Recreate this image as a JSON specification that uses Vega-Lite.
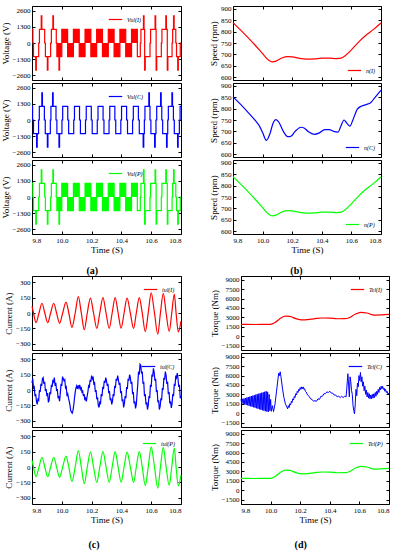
{
"$schema": "https://vega.github.io/schema/vega-lite/v6.json",
"padding": {"left": 0, "top": 4, "right": 6, "bottom": 0},
"config": {
 "font": "Liberation Serif",
 "view": {"stroke": "#000", "strokeWidth": 1},
 "axis": {"grid": false, "domain": false, "tickColor": "#000", "tickSize": -3, "labelFontSize": 7, "labelColor": "#000", "titleFontSize": 9, "titleFontWeight": "normal", "titleColor": "#000", "labelPadding": 5, "titlePadding": 2, "format": "d"},
 "legend": {"orient": "top-right", "symbolType": "stroke", "symbolSize": 180, "symbolStrokeWidth": 1.5, "labelFont": "Liberation Serif", "labelFontSize": 6, "labelFontStyle": "italic", "labelColor": "#000", "padding": 2, "offset": 4},
 "title": {"font": "Liberation Serif", "fontSize": 10, "fontWeight": "bold", "color": "#000"},
 "line": {"strokeWidth": 1.2}
},
"datasets": {
 "pwm": [
  {"t":9.8,"v":1100},{"t":9.806,"v":0},{"t":9.81,"v":-1100},{"t":9.825,"v":-2200},{"t":9.829,"v":-1100},{"t":9.845,"v":0},{"t":9.85,"v":1100},{"t":9.862,"v":2200},{"t":9.866,"v":1100},{"t":9.885,"v":0},{"t":9.89,"v":-1100},{"t":9.903,"v":-2200},{"t":9.907,"v":-1100},{"t":9.925,"v":0},{"t":9.93,"v":1100},{"t":9.94,"v":2200},{"t":9.944,"v":1100},{"t":9.963,"v":0},{"t":9.967,"v":-1100},{"t":9.981,"v":-2200},{"t":9.985,"v":-1100},{"t":10.0,"v":1100},{"t":10.039,"v":-1100},{"t":10.078,"v":1100},{"t":10.117,"v":-1100},{"t":10.156,"v":1100},{"t":10.195,"v":-1100},{"t":10.234,"v":1100},{"t":10.273,"v":-1100},{"t":10.312,"v":1100},{"t":10.351,"v":-1100},{"t":10.39,"v":1100},{"t":10.429,"v":-1100},{"t":10.468,"v":1100},{"t":10.507,"v":-1100},{"t":10.527,"v":0},{"t":10.531,"v":1100},{"t":10.548,"v":2200},{"t":10.552,"v":1100},{"t":10.556,"v":-2200},{"t":10.56,"v":-1100},{"t":10.592,"v":0},{"t":10.596,"v":1100},{"t":10.626,"v":2200},{"t":10.63,"v":1100},{"t":10.633,"v":-2200},{"t":10.637,"v":-1100},{"t":10.668,"v":0},{"t":10.672,"v":1100},{"t":10.698,"v":2200},{"t":10.702,"v":1100},{"t":10.708,"v":-2200},{"t":10.712,"v":-1100},{"t":10.74,"v":0},{"t":10.744,"v":1100},{"t":10.75,"v":2200},{"t":10.754,"v":1100},{"t":10.765,"v":0},{"t":10.77,"v":-1100},{"t":10.778,"v":-2200},{"t":10.782,"v":-1100},{"t":10.795,"v":0},{"t":10.8,"v":0}
 ],
 "blocks": [
  {"t":9.967,"t2":10.0,"v":-1100},{"t":10.0,"t2":10.039,"v":1100},{"t":10.039,"t2":10.078,"v":-1100},{"t":10.078,"t2":10.117,"v":1100},{"t":10.117,"t2":10.156,"v":-1100},{"t":10.156,"t2":10.195,"v":1100},{"t":10.195,"t2":10.234,"v":-1100},{"t":10.234,"t2":10.273,"v":1100},{"t":10.273,"t2":10.312,"v":-1100},{"t":10.312,"t2":10.351,"v":1100},{"t":10.351,"t2":10.39,"v":-1100},{"t":10.39,"t2":10.429,"v":1100},{"t":10.429,"t2":10.468,"v":-1100},{"t":10.468,"t2":10.507,"v":1100}
 ],
 "vc": [
  {"t":9.8,"v":1100},{"t":9.804,"v":0},{"t":9.81,"v":-1100},{"t":9.831,"v":-2200},{"t":9.835,"v":-1100},{"t":9.844,"v":0},
  {"t":9.849,"v":1100},{"t":9.866,"v":2200},{"t":9.87,"v":1100},{"t":9.883,"v":0},{"t":9.889,"v":-1100},{"t":9.903,"v":-2200},{"t":9.907,"v":-1100},{"t":9.923,"v":0},
  {"t":9.927,"v":1100},{"t":9.938,"v":2200},{"t":9.942,"v":1100},{"t":9.961,"v":0},{"t":9.967,"v":-1100},{"t":9.981,"v":-2200},{"t":9.985,"v":-1100},{"t":10.001,"v":0},
  {"t":10.006,"v":1100},{"t":10.04,"v":0},{"t":10.046,"v":-1100},{"t":10.08,"v":0},
  {"t":10.085,"v":1100},{"t":10.119,"v":0},{"t":10.125,"v":-1100},{"t":10.159,"v":0},
  {"t":10.164,"v":1100},{"t":10.198,"v":0},{"t":10.204,"v":-1100},{"t":10.238,"v":0},
  {"t":10.243,"v":1100},{"t":10.277,"v":0},{"t":10.283,"v":-1100},{"t":10.317,"v":0},
  {"t":10.322,"v":1100},{"t":10.356,"v":0},{"t":10.362,"v":-1100},{"t":10.396,"v":0},
  {"t":10.401,"v":1100},{"t":10.435,"v":0},{"t":10.441,"v":-1100},{"t":10.475,"v":0},
  {"t":10.48,"v":1100},{"t":10.514,"v":0},{"t":10.52,"v":-1100},{"t":10.546,"v":-2200},{"t":10.55,"v":-1100},{"t":10.554,"v":0},
  {"t":10.558,"v":1100},{"t":10.584,"v":2200},{"t":10.588,"v":1100},{"t":10.592,"v":0},{"t":10.598,"v":-1100},{"t":10.623,"v":-2200},{"t":10.627,"v":-1100},{"t":10.632,"v":0},
  {"t":10.637,"v":1100},{"t":10.663,"v":2200},{"t":10.667,"v":1100},{"t":10.671,"v":0},{"t":10.677,"v":-1100},{"t":10.703,"v":-2200},{"t":10.707,"v":-1100},{"t":10.711,"v":0},
  {"t":10.715,"v":1100},{"t":10.739,"v":2200},{"t":10.743,"v":1100},{"t":10.749,"v":0},{"t":10.755,"v":-1100},{"t":10.777,"v":-2200},{"t":10.781,"v":-1100},{"t":10.789,"v":0},
  {"t":10.794,"v":1100},{"t":10.8,"v":1100}
 ],
 "spd": [
  {"t":9.8,"v":840},{"t":9.85,"v":808},{"t":9.9,"v":775},{"t":9.95,"v":740},{"t":10.0,"v":703},{"t":10.04,"v":675},{"t":10.065,"v":667},{"t":10.09,"v":670},{"t":10.13,"v":684},{"t":10.17,"v":690},{"t":10.2,"v":689},{"t":10.25,"v":682},{"t":10.3,"v":679},{"t":10.35,"v":680},{"t":10.4,"v":683},{"t":10.45,"v":683},{"t":10.5,"v":681},{"t":10.53,"v":683},{"t":10.56,"v":695},{"t":10.6,"v":720},{"t":10.65,"v":755},{"t":10.7,"v":785},{"t":10.75,"v":810},{"t":10.8,"v":838}
 ],
 "sc": [
  {"t":9.8,"v":852},{"t":9.85,"v":820},{"t":9.9,"v":785},{"t":9.95,"v":748},{"t":9.98,"v":722},{"t":10.0,"v":695},{"t":10.025,"v":660},{"t":10.05,"v":690},{"t":10.07,"v":735},{"t":10.09,"v":752},{"t":10.11,"v":740},{"t":10.14,"v":700},{"t":10.17,"v":677},{"t":10.19,"v":678},{"t":10.22,"v":700},{"t":10.26,"v":718},{"t":10.28,"v":715},{"t":10.31,"v":698},{"t":10.35,"v":687},{"t":10.38,"v":692},{"t":10.42,"v":708},{"t":10.45,"v":708},{"t":10.48,"v":700},{"t":10.51,"v":697},{"t":10.53,"v":725},{"t":10.55,"v":750},{"t":10.57,"v":735},{"t":10.59,"v":723},{"t":10.61,"v":750},{"t":10.64,"v":798},{"t":10.67,"v":812},{"t":10.7,"v":818},{"t":10.73,"v":826},{"t":10.76,"v":850},{"t":10.8,"v":882}
 ],
 "cur": [
  {"t":9.8,"v":65},{"t":9.81,"v":0},{"t":9.827,"v":-95},{"t":9.847,"v":0},{"t":9.867,"v":95},{"t":9.886,"v":0},{"t":9.905,"v":-95},{"t":9.925,"v":0},{"t":9.946,"v":95},{"t":9.965,"v":0},{"t":9.985,"v":-100},{"t":10.006,"v":0},{"t":10.028,"v":105},{"t":10.047,"v":0},{"t":10.068,"v":-140},{"t":10.09,"v":0},{"t":10.111,"v":160},{"t":10.131,"v":0},{"t":10.151,"v":-163},{"t":10.171,"v":0},{"t":10.192,"v":145},{"t":10.213,"v":0},{"t":10.235,"v":-150},{"t":10.255,"v":0},{"t":10.276,"v":150},{"t":10.297,"v":0},{"t":10.318,"v":-150},{"t":10.338,"v":0},{"t":10.358,"v":150},{"t":10.378,"v":0},{"t":10.398,"v":-148},{"t":10.418,"v":0},{"t":10.438,"v":145},{"t":10.46,"v":0},{"t":10.482,"v":-150},{"t":10.5,"v":0},{"t":10.52,"v":150},{"t":10.54,"v":0},{"t":10.56,"v":-182},{"t":10.58,"v":0},{"t":10.6,"v":195},{"t":10.622,"v":0},{"t":10.644,"v":-205},{"t":10.662,"v":0},{"t":10.681,"v":190},{"t":10.7,"v":0},{"t":10.721,"v":-180},{"t":10.738,"v":0},{"t":10.755,"v":185},{"t":10.767,"v":0},{"t":10.782,"v":-185},{"t":10.8,"v":-80}
 ],
 "ic": [
  {"t":9.8,"v":70},{"t":9.805,"v":110},{"t":9.81,"v":20},{"t":9.815,"v":30},{"t":9.82,"v":-60},{"t":9.825,"v":-40},{"t":9.83,"v":-110},{"t":9.835,"v":-140},{"t":9.84,"v":-90},{"t":9.845,"v":-100},{"t":9.85,"v":0},{"t":9.855,"v":-20},{"t":9.86,"v":60},{"t":9.865,"v":40},{"t":9.87,"v":110},{"t":9.875,"v":120},{"t":9.88,"v":60},{"t":9.885,"v":80},{"t":9.89,"v":-10},{"t":9.895,"v":10},{"t":9.9,"v":-60},{"t":9.905,"v":-30},{"t":9.91,"v":-120},{"t":9.915,"v":-100},{"t":9.92,"v":-20},{"t":9.925,"v":-40},{"t":9.93,"v":50},{"t":9.935,"v":30},{"t":9.94,"v":100},{"t":9.945,"v":80},{"t":9.95,"v":120},{"t":9.955,"v":40},{"t":9.96,"v":70},{"t":9.965,"v":-10},{"t":9.97,"v":10},{"t":9.975,"v":-80},{"t":9.98,"v":-60},{"t":9.985,"v":-110},{"t":9.99,"v":-30},{"t":9.995,"v":60},{"t":10.0,"v":40},{"t":10.005,"v":130},{"t":10.01,"v":110},{"t":10.015,"v":90},{"t":10.02,"v":100},{"t":10.025,"v":20},{"t":10.03,"v":30},{"t":10.035,"v":-60},{"t":10.04,"v":-40},{"t":10.045,"v":-80},{"t":10.05,"v":-110},{"t":10.055,"v":-150},{"t":10.06,"v":-200},{"t":10.065,"v":-215},{"t":10.07,"v":-225},{"t":10.075,"v":-200},{"t":10.08,"v":-150},{"t":10.085,"v":-80},{"t":10.09,"v":-20},{"t":10.095,"v":20},{"t":10.1,"v":40},{"t":10.105,"v":10},{"t":10.11,"v":45},{"t":10.115,"v":20},{"t":10.12,"v":50},{"t":10.125,"v":10},{"t":10.13,"v":30},{"t":10.135,"v":-20},{"t":10.14,"v":-10},{"t":10.145,"v":-60},{"t":10.15,"v":-40},{"t":10.155,"v":-100},{"t":10.16,"v":-80},{"t":10.165,"v":-110},{"t":10.17,"v":-60},{"t":10.175,"v":-20},{"t":10.18,"v":40},{"t":10.185,"v":30},{"t":10.19,"v":100},{"t":10.195,"v":80},{"t":10.2,"v":140},{"t":10.205,"v":110},{"t":10.21,"v":130},{"t":10.215,"v":60},{"t":10.22,"v":70},{"t":10.225,"v":-20},{"t":10.23,"v":0},{"t":10.235,"v":-90},{"t":10.24,"v":-70},{"t":10.245,"v":-150},{"t":10.25,"v":-170},{"t":10.255,"v":-120},{"t":10.26,"v":-130},{"t":10.265,"v":-40},{"t":10.27,"v":-60},{"t":10.275,"v":30},{"t":10.28,"v":10},{"t":10.285,"v":90},{"t":10.29,"v":70},{"t":10.295,"v":120},{"t":10.3,"v":90},{"t":10.305,"v":40},{"t":10.31,"v":60},{"t":10.315,"v":-30},{"t":10.32,"v":-10},{"t":10.325,"v":-100},{"t":10.33,"v":-80},{"t":10.335,"v":-140},{"t":10.34,"v":-110},{"t":10.345,"v":-40},{"t":10.35,"v":-60},{"t":10.355,"v":40},{"t":10.36,"v":20},{"t":10.365,"v":110},{"t":10.37,"v":90},{"t":10.375,"v":140},{"t":10.38,"v":100},{"t":10.385,"v":50},{"t":10.39,"v":70},{"t":10.395,"v":-30},{"t":10.4,"v":-10},{"t":10.405,"v":-110},{"t":10.41,"v":-90},{"t":10.415,"v":-170},{"t":10.42,"v":-130},{"t":10.425,"v":-60},{"t":10.43,"v":-80},{"t":10.435,"v":30},{"t":10.44,"v":10},{"t":10.445,"v":110},{"t":10.45,"v":90},{"t":10.455,"v":150},{"t":10.46,"v":120},{"t":10.465,"v":60},{"t":10.47,"v":80},{"t":10.475,"v":-40},{"t":10.48,"v":-20},{"t":10.485,"v":-130},{"t":10.49,"v":-110},{"t":10.495,"v":-180},{"t":10.5,"v":-140},{"t":10.505,"v":-40},{"t":10.51,"v":60},{"t":10.515,"v":180},{"t":10.52,"v":150},{"t":10.525,"v":250},{"t":10.53,"v":240},{"t":10.535,"v":160},{"t":10.54,"v":180},{"t":10.545,"v":60},{"t":10.55,"v":80},{"t":10.555,"v":-60},{"t":10.56,"v":-40},{"t":10.565,"v":-140},{"t":10.57,"v":-120},{"t":10.575,"v":-190},{"t":10.58,"v":-150},{"t":10.585,"v":-60},{"t":10.59,"v":-80},{"t":10.595,"v":50},{"t":10.6,"v":30},{"t":10.605,"v":150},{"t":10.61,"v":130},{"t":10.615,"v":210},{"t":10.62,"v":170},{"t":10.625,"v":90},{"t":10.63,"v":110},{"t":10.635,"v":-20},{"t":10.64,"v":0},{"t":10.645,"v":-120},{"t":10.65,"v":-100},{"t":10.655,"v":-190},{"t":10.66,"v":-160},{"t":10.665,"v":-80},{"t":10.67,"v":-100},{"t":10.675,"v":20},{"t":10.68,"v":0},{"t":10.685,"v":120},{"t":10.69,"v":100},{"t":10.695,"v":180},{"t":10.7,"v":140},{"t":10.705,"v":60},{"t":10.71,"v":80},{"t":10.715,"v":-40},{"t":10.72,"v":-20},{"t":10.725,"v":-130},{"t":10.73,"v":-110},{"t":10.735,"v":-175},{"t":10.74,"v":-130},{"t":10.745,"v":-40},{"t":10.75,"v":-60},{"t":10.755,"v":60},{"t":10.76,"v":40},{"t":10.765,"v":140},{"t":10.77,"v":120},{"t":10.775,"v":165},{"t":10.78,"v":110},{"t":10.785,"v":30},{"t":10.79,"v":50},{"t":10.795,"v":-80},{"t":10.8,"v":-60}
 ],
 "trq": [
  {"t":9.8,"v":1880},{"t":9.9,"v":1870},{"t":9.98,"v":1880},{"t":10.0,"v":1900},{"t":10.03,"v":2200},{"t":10.07,"v":2900},{"t":10.1,"v":3200},{"t":10.13,"v":3150},{"t":10.17,"v":2800},{"t":10.21,"v":2600},{"t":10.25,"v":2650},{"t":10.3,"v":2800},{"t":10.35,"v":2900},{"t":10.4,"v":2880},{"t":10.45,"v":2780},{"t":10.5,"v":2800},{"t":10.53,"v":2950},{"t":10.57,"v":3500},{"t":10.61,"v":3800},{"t":10.65,"v":3700},{"t":10.7,"v":3350},{"t":10.75,"v":3400},{"t":10.8,"v":3480}
 ],
 "tc": [
  {"t":9.8,"v":2200},{"t":9.805,"v":1600},{"t":9.81,"v":2280},{"t":9.815,"v":1500},{"t":9.82,"v":2350},{"t":9.825,"v":1420},{"t":9.83,"v":2430},{"t":9.835,"v":1340},{"t":9.84,"v":2500},{"t":9.845,"v":1260},{"t":9.85,"v":2580},{"t":9.855,"v":1180},{"t":9.86,"v":2650},{"t":9.865,"v":1100},{"t":9.87,"v":2730},{"t":9.875,"v":1020},{"t":9.88,"v":2800},{"t":9.885,"v":950},{"t":9.89,"v":2880},{"t":9.895,"v":870},{"t":9.9,"v":2960},{"t":9.905,"v":790},{"t":9.91,"v":3030},{"t":9.915,"v":710},{"t":9.92,"v":3110},{"t":9.925,"v":630},{"t":9.93,"v":3180},{"t":9.935,"v":550},{"t":9.94,"v":3260},{"t":9.945,"v":470},{"t":9.95,"v":3330},{"t":9.955,"v":400},{"t":9.96,"v":3420},{"t":9.965,"v":320},{"t":9.97,"v":3500},{"t":9.975,"v":260},{"t":9.98,"v":3400},{"t":9.985,"v":200},{"t":9.99,"v":3000},{"t":9.995,"v":400},{"t":10.0,"v":2200},{"t":10.005,"v":300},{"t":10.012,"v":1200},{"t":10.02,"v":250},{"t":10.03,"v":1500},{"t":10.04,"v":3500},{"t":10.05,"v":5500},{"t":10.055,"v":6400},{"t":10.06,"v":6000},{"t":10.065,"v":6600},{"t":10.07,"v":5800},{"t":10.08,"v":4000},{"t":10.09,"v":2500},{"t":10.1,"v":1500},{"t":10.11,"v":1000},{"t":10.115,"v":700},{"t":10.12,"v":1200},{"t":10.125,"v":900},{"t":10.13,"v":1500},{"t":10.135,"v":1300},{"t":10.14,"v":1900},{"t":10.145,"v":1700},{"t":10.15,"v":2300},{"t":10.155,"v":2100},{"t":10.16,"v":2700},{"t":10.165,"v":2500},{"t":10.17,"v":3100},{"t":10.175,"v":2900},{"t":10.18,"v":3500},{"t":10.185,"v":3300},{"t":10.19,"v":3800},{"t":10.195,"v":3600},{"t":10.2,"v":4100},{"t":10.205,"v":3800},{"t":10.21,"v":4200},{"t":10.215,"v":3900},{"t":10.22,"v":4200},{"t":10.225,"v":3800},{"t":10.23,"v":3900},{"t":10.235,"v":3500},{"t":10.24,"v":3400},{"t":10.25,"v":2900},{"t":10.26,"v":2700},{"t":10.27,"v":2300},{"t":10.28,"v":2200},{"t":10.29,"v":1900},{"t":10.3,"v":2000},{"t":10.31,"v":1900},{"t":10.32,"v":2300},{"t":10.33,"v":2200},{"t":10.34,"v":2700},{"t":10.35,"v":2700},{"t":10.36,"v":3100},{"t":10.37,"v":3100},{"t":10.38,"v":3400},{"t":10.39,"v":3300},{"t":10.4,"v":3500},{"t":10.41,"v":3200},{"t":10.42,"v":3200},{"t":10.43,"v":2900},{"t":10.44,"v":2900},{"t":10.45,"v":2600},{"t":10.46,"v":2700},{"t":10.47,"v":2500},{"t":10.48,"v":2700},{"t":10.49,"v":2500},{"t":10.5,"v":2700},{"t":10.51,"v":2600},{"t":10.515,"v":4000},{"t":10.522,"v":6300},{"t":10.527,"v":4500},{"t":10.532,"v":2600},{"t":10.537,"v":5800},{"t":10.542,"v":5000},{"t":10.547,"v":3600},{"t":10.552,"v":3000},{"t":10.557,"v":1200},{"t":10.562,"v":400},{"t":10.567,"v":-100},{"t":10.572,"v":1500},{"t":10.577,"v":3800},{"t":10.582,"v":2800},{"t":10.587,"v":4800},{"t":10.592,"v":4200},{"t":10.597,"v":6000},{"t":10.602,"v":5200},{"t":10.607,"v":6500},{"t":10.612,"v":5000},{"t":10.617,"v":5800},{"t":10.622,"v":4300},{"t":10.627,"v":5000},{"t":10.632,"v":3600},{"t":10.637,"v":4300},{"t":10.642,"v":3000},{"t":10.647,"v":3700},{"t":10.652,"v":2600},{"t":10.657,"v":3300},{"t":10.662,"v":2400},{"t":10.667,"v":3100},{"t":10.672,"v":2300},{"t":10.677,"v":2900},{"t":10.682,"v":2300},{"t":10.687,"v":3000},{"t":10.692,"v":2400},{"t":10.697,"v":3100},{"t":10.702,"v":2500},{"t":10.707,"v":3300},{"t":10.712,"v":2700},{"t":10.717,"v":3500},{"t":10.722,"v":3000},{"t":10.727,"v":3800},{"t":10.732,"v":3300},{"t":10.737,"v":4100},{"t":10.742,"v":3700},{"t":10.747,"v":4300},{"t":10.752,"v":3900},{"t":10.757,"v":4300},{"t":10.762,"v":3800},{"t":10.767,"v":4000},{"t":10.772,"v":3500},{"t":10.777,"v":3800},{"t":10.782,"v":3300},{"t":10.787,"v":3500},{"t":10.792,"v":3100},{"t":10.8,"v":3200}
 ]
},
"spacing": -8,
"vconcat": [
 {"hconcat": [
  {"title": {"text": "(a)", "orient": "bottom", "anchor": "middle", "offset": 11},
   "spacing": 3, "bounds": "flush",
   "resolve": {"scale": {"color": "independent"}, "legend": {"color": "independent"}},
   "vconcat": [
    {"width": 149, "height": 74,
     "resolve": {"axis": {"x": "independent", "y": "independent"}},
     "layer": [
      {"encoding": {"x": {"field": "t", "type": "quantitative", "title": null, "scale": {"domain": [9.8, 10.8], "nice": false, "zero": false}, "axis": {"values": [9.8, 10.0, 10.2, 10.4, 10.6, 10.8], "labels": false}},
                    "y": {"field": "v", "type": "quantitative", "title": "Voltage (V)", "scale": {"domain": [-3000, 3000], "nice": false}, "axis": {"values": [-2600, -1300, 0, 1300, 2600]}}},
       "layer": [
        {"data": {"name": "blocks"}, "mark": {"type": "rect", "color": "#ff0000"}, "encoding": {"x2": {"field": "t2"}, "y2": {"datum": 0}}},
        {"data": {"name": "pwm"}, "mark": {"type": "line", "interpolate": "step-after", "strokeWidth": 1.2}, "encoding": {"color": {"datum": "Vul(I)", "scale": {"range": ["#ff0000"]}, "legend": {"title": null, "orient": "none", "legendX": 74, "legendY": 4}}}}
       ]},
      {"data": {"name": "pwm"}, "mark": {"type": "line", "opacity": 0},
       "encoding": {"x": {"field": "t", "type": "quantitative", "title": null, "scale": {"domain": [9.8, 10.8], "nice": false, "zero": false}, "axis": {"orient": "top", "labels": false, "values": [9.8, 10.0, 10.2, 10.4, 10.6, 10.8]}},
                    "y": {"field": "v", "type": "quantitative", "title": null, "scale": {"domain": [-3000, 3000], "nice": false}, "axis": {"orient": "right", "labels": false, "values": [-2600, -1300, 0, 1300, 2600]}}}}
     ]},
    {"width": 149, "height": 74,
     "resolve": {"axis": {"x": "independent", "y": "independent"}},
     "layer": [
      {"data": {"name": "vc"}, "mark": {"type": "line", "interpolate": "step-after", "strokeWidth": 1.2},
       "encoding": {"x": {"field": "t", "type": "quantitative", "title": null, "scale": {"domain": [9.8, 10.8], "nice": false, "zero": false}, "axis": {"values": [9.8, 10.0, 10.2, 10.4, 10.6, 10.8], "labels": false}},
                    "y": {"field": "v", "type": "quantitative", "title": "Voltage (V)", "scale": {"domain": [-3000, 3000], "nice": false}, "axis": {"values": [-2600, -1300, 0, 1300, 2600]}},
                    "color": {"datum": "Vul(C)", "scale": {"range": ["#0000ff"]}, "legend": {"title": null, "orient": "none", "legendX": 74, "legendY": 4}}}},
      {"data": {"name": "vc"}, "mark": {"type": "line", "opacity": 0},
       "encoding": {"x": {"field": "t", "type": "quantitative", "title": null, "scale": {"domain": [9.8, 10.8], "nice": false, "zero": false}, "axis": {"orient": "top", "labels": false, "values": [9.8, 10.0, 10.2, 10.4, 10.6, 10.8]}},
                    "y": {"field": "v", "type": "quantitative", "title": null, "scale": {"domain": [-3000, 3000], "nice": false}, "axis": {"orient": "right", "labels": false, "values": [-2600, -1300, 0, 1300, 2600]}}}}
     ]},
    {"width": 149, "height": 74,
     "resolve": {"axis": {"x": "independent", "y": "independent"}},
     "layer": [
      {"encoding": {"x": {"field": "t", "type": "quantitative", "title": "Time (S)", "scale": {"domain": [9.8, 10.8], "nice": false, "zero": false}, "axis": {"values": [9.8, 10.0, 10.2, 10.4, 10.6, 10.8], "format": ".1f"}},
                    "y": {"field": "v", "type": "quantitative", "title": "Voltage (V)", "scale": {"domain": [-3000, 3000], "nice": false}, "axis": {"values": [-2600, -1300, 0, 1300, 2600]}}},
       "layer": [
        {"data": {"name": "blocks"}, "mark": {"type": "rect", "color": "#00ff00"}, "encoding": {"x2": {"field": "t2"}, "y2": {"datum": 0}}},
        {"data": {"name": "pwm"}, "mark": {"type": "line", "interpolate": "step-after", "strokeWidth": 1.2}, "encoding": {"color": {"datum": "Vul(P)", "scale": {"range": ["#00ff00"]}, "legend": {"title": null, "orient": "none", "legendX": 74, "legendY": 4}}}}
       ]},
      {"data": {"name": "pwm"}, "mark": {"type": "line", "opacity": 0},
       "encoding": {"x": {"field": "t", "type": "quantitative", "title": null, "scale": {"domain": [9.8, 10.8], "nice": false, "zero": false}, "axis": {"orient": "top", "labels": false, "values": [9.8, 10.0, 10.2, 10.4, 10.6, 10.8]}},
                    "y": {"field": "v", "type": "quantitative", "title": null, "scale": {"domain": [-3000, 3000], "nice": false}, "axis": {"orient": "right", "labels": false, "values": [-2600, -1300, 0, 1300, 2600]}}}}
     ]}
   ]},
  {"title": {"text": "(b)", "orient": "bottom", "anchor": "middle", "offset": 11},
   "spacing": 3, "bounds": "flush",
   "resolve": {"scale": {"color": "independent"}, "legend": {"color": "independent"}},
   "vconcat": [
    {"width": 148, "height": 74,
     "resolve": {"axis": {"x": "independent", "y": "independent"}},
     "layer": [
      {"data": {"name": "spd"}, "mark": {"type": "line", "interpolate": "monotone", "strokeWidth": 1.2},
       "encoding": {"x": {"field": "t", "type": "quantitative", "title": null, "scale": {"domain": [9.8, 10.8], "nice": false, "zero": false}, "axis": {"values": [9.8, 10.0, 10.2, 10.4, 10.6, 10.8], "labels": false}},
                    "y": {"field": "v", "type": "quantitative", "title": "Speed (rpm)", "scale": {"domain": [587, 913], "nice": false, "zero": false}, "axis": {"values": [600, 650, 700, 750, 800, 850, 900]}},
                    "color": {"datum": "n(I)", "scale": {"range": ["#ff0000"]}, "legend": {"title": null, "orient": "bottom-right"}}}},
      {"data": {"name": "spd"}, "mark": {"type": "line", "opacity": 0},
       "encoding": {"x": {"field": "t", "type": "quantitative", "title": null, "scale": {"domain": [9.8, 10.8], "nice": false, "zero": false}, "axis": {"orient": "top", "labels": false, "values": [9.8, 10.0, 10.2, 10.4, 10.6, 10.8]}},
                    "y": {"field": "v", "type": "quantitative", "title": null, "scale": {"domain": [587, 913], "nice": false, "zero": false}, "axis": {"orient": "right", "labels": false, "values": [600, 650, 700, 750, 800, 850, 900]}}}}
     ]},
    {"width": 148, "height": 74,
     "resolve": {"axis": {"x": "independent", "y": "independent"}},
     "layer": [
      {"data": {"name": "sc"}, "mark": {"type": "line", "interpolate": "monotone", "strokeWidth": 1.2},
       "encoding": {"x": {"field": "t", "type": "quantitative", "title": null, "scale": {"domain": [9.8, 10.8], "nice": false, "zero": false}, "axis": {"values": [9.8, 10.0, 10.2, 10.4, 10.6, 10.8], "labels": false}},
                    "y": {"field": "v", "type": "quantitative", "title": "Speed (rpm)", "scale": {"domain": [587, 913], "nice": false, "zero": false}, "axis": {"values": [600, 650, 700, 750, 800, 850, 900]}},
                    "color": {"datum": "n(C)", "scale": {"range": ["#0000ff"]}, "legend": {"title": null, "orient": "bottom-right"}}}},
      {"data": {"name": "sc"}, "mark": {"type": "line", "opacity": 0},
       "encoding": {"x": {"field": "t", "type": "quantitative", "title": null, "scale": {"domain": [9.8, 10.8], "nice": false, "zero": false}, "axis": {"orient": "top", "labels": false, "values": [9.8, 10.0, 10.2, 10.4, 10.6, 10.8]}},
                    "y": {"field": "v", "type": "quantitative", "title": null, "scale": {"domain": [587, 913], "nice": false, "zero": false}, "axis": {"orient": "right", "labels": false, "values": [600, 650, 700, 750, 800, 850, 900]}}}}
     ]},
    {"width": 148, "height": 74,
     "resolve": {"axis": {"x": "independent", "y": "independent"}},
     "layer": [
      {"data": {"name": "spd"}, "mark": {"type": "line", "interpolate": "monotone", "strokeWidth": 1.2},
       "encoding": {"x": {"field": "t", "type": "quantitative", "title": "Time (S)", "scale": {"domain": [9.8, 10.8], "nice": false, "zero": false}, "axis": {"values": [9.8, 10.0, 10.2, 10.4, 10.6, 10.8], "format": ".1f"}},
                    "y": {"field": "v", "type": "quantitative", "title": "Speed (rpm)", "scale": {"domain": [587, 913], "nice": false, "zero": false}, "axis": {"values": [600, 650, 700, 750, 800, 850, 900]}},
                    "color": {"datum": "n(P)", "scale": {"range": ["#00ff00"]}, "legend": {"title": null, "orient": "bottom-right"}}}},
      {"data": {"name": "spd"}, "mark": {"type": "line", "opacity": 0},
       "encoding": {"x": {"field": "t", "type": "quantitative", "title": null, "scale": {"domain": [9.8, 10.8], "nice": false, "zero": false}, "axis": {"orient": "top", "labels": false, "values": [9.8, 10.0, 10.2, 10.4, 10.6, 10.8]}},
                    "y": {"field": "v", "type": "quantitative", "title": null, "scale": {"domain": [587, 913], "nice": false, "zero": false}, "axis": {"orient": "right", "labels": false, "values": [600, 650, 700, 750, 800, 850, 900]}}}}
     ]}
   ]}
 ], "spacing": 25, "resolve": {"scale": {"color": "independent"}, "legend": {"color": "independent"}}},
 {"hconcat": [
  {"title": {"text": "(c)", "orient": "bottom", "anchor": "middle", "offset": 15},
   "spacing": 3, "bounds": "flush",
   "resolve": {"scale": {"color": "independent"}, "legend": {"color": "independent"}},
   "vconcat": [
    {"width": 149, "height": 74,
     "resolve": {"axis": {"x": "independent", "y": "independent"}},
     "layer": [
      {"data": {"name": "cur"}, "mark": {"type": "line", "interpolate": "monotone", "strokeWidth": 1.2},
       "encoding": {"x": {"field": "t", "type": "quantitative", "title": null, "scale": {"domain": [9.8, 10.8], "nice": false, "zero": false}, "axis": {"values": [9.8, 10.0, 10.2, 10.4, 10.6, 10.8], "labels": false}},
                    "y": {"field": "v", "type": "quantitative", "title": "Current (A)", "scale": {"domain": [-360, 360], "nice": false}, "axis": {"values": [-300, -150, 0, 150, 300]}},
                    "color": {"datum": "iul(I)", "scale": {"range": ["#ff0000"]}, "legend": {"title": null}}}},
      {"data": {"name": "cur"}, "mark": {"type": "line", "opacity": 0},
       "encoding": {"x": {"field": "t", "type": "quantitative", "title": null, "scale": {"domain": [9.8, 10.8], "nice": false, "zero": false}, "axis": {"orient": "top", "labels": false, "values": [9.8, 10.0, 10.2, 10.4, 10.6, 10.8]}},
                    "y": {"field": "v", "type": "quantitative", "title": null, "scale": {"domain": [-360, 360], "nice": false}, "axis": {"orient": "right", "labels": false, "values": [-300, -150, 0, 150, 300]}}}}
     ]},
    {"width": 149, "height": 74,
     "resolve": {"axis": {"x": "independent", "y": "independent"}},
     "layer": [
      {"data": {"name": "ic"}, "mark": {"type": "line", "strokeWidth": 1.2},
       "encoding": {"x": {"field": "t", "type": "quantitative", "title": null, "scale": {"domain": [9.8, 10.8], "nice": false, "zero": false}, "axis": {"values": [9.8, 10.0, 10.2, 10.4, 10.6, 10.8], "labels": false}},
                    "y": {"field": "v", "type": "quantitative", "title": "Current (A)", "scale": {"domain": [-360, 360], "nice": false}, "axis": {"values": [-300, -150, 0, 150, 300]}},
                    "color": {"datum": "iul(C)", "scale": {"range": ["#0000ff"]}, "legend": {"title": null}}}},
      {"data": {"name": "ic"}, "mark": {"type": "line", "opacity": 0},
       "encoding": {"x": {"field": "t", "type": "quantitative", "title": null, "scale": {"domain": [9.8, 10.8], "nice": false, "zero": false}, "axis": {"orient": "top", "labels": false, "values": [9.8, 10.0, 10.2, 10.4, 10.6, 10.8]}},
                    "y": {"field": "v", "type": "quantitative", "title": null, "scale": {"domain": [-360, 360], "nice": false}, "axis": {"orient": "right", "labels": false, "values": [-300, -150, 0, 150, 300]}}}}
     ]},
    {"width": 149, "height": 74,
     "resolve": {"axis": {"x": "independent", "y": "independent"}},
     "layer": [
      {"data": {"name": "cur"}, "mark": {"type": "line", "interpolate": "monotone", "strokeWidth": 1.2},
       "encoding": {"x": {"field": "t", "type": "quantitative", "title": "Time (S)", "scale": {"domain": [9.8, 10.8], "nice": false, "zero": false}, "axis": {"values": [9.8, 10.0, 10.2, 10.4, 10.6, 10.8], "format": ".1f"}},
                    "y": {"field": "v", "type": "quantitative", "title": "Current (A)", "scale": {"domain": [-360, 360], "nice": false}, "axis": {"values": [-300, -150, 0, 150, 300]}},
                    "color": {"datum": "iul(P)", "scale": {"range": ["#00ff00"]}, "legend": {"title": null}}}},
      {"data": {"name": "cur"}, "mark": {"type": "line", "opacity": 0},
       "encoding": {"x": {"field": "t", "type": "quantitative", "title": null, "scale": {"domain": [9.8, 10.8], "nice": false, "zero": false}, "axis": {"orient": "top", "labels": false, "values": [9.8, 10.0, 10.2, 10.4, 10.6, 10.8]}},
                    "y": {"field": "v", "type": "quantitative", "title": null, "scale": {"domain": [-360, 360], "nice": false}, "axis": {"orient": "right", "labels": false, "values": [-300, -150, 0, 150, 300]}}}}
     ]}
   ]},
  {"title": {"text": "(d)", "orient": "bottom", "anchor": "middle", "offset": 15},
   "spacing": 3, "bounds": "flush",
   "resolve": {"scale": {"color": "independent"}, "legend": {"color": "independent"}},
   "vconcat": [
    {"width": 148, "height": 74,
     "resolve": {"axis": {"x": "independent", "y": "independent"}},
     "layer": [
      {"data": {"name": "trq"}, "mark": {"type": "line", "interpolate": "monotone", "strokeWidth": 1.2},
       "encoding": {"x": {"field": "t", "type": "quantitative", "title": null, "scale": {"domain": [9.8, 10.8], "nice": false, "zero": false}, "axis": {"values": [9.8, 10.0, 10.2, 10.4, 10.6, 10.8], "labels": false}},
                    "y": {"field": "v", "type": "quantitative", "title": "Torque (Nm)", "scale": {"domain": [-2200, 9600], "nice": false}, "axis": {"values": [-1500, 0, 1500, 3000, 4500, 6000, 7500, 9000]}},
                    "color": {"datum": "Tel(I)", "scale": {"range": ["#ff0000"]}, "legend": {"title": null}}}},
      {"data": {"name": "trq"}, "mark": {"type": "line", "opacity": 0},
       "encoding": {"x": {"field": "t", "type": "quantitative", "title": null, "scale": {"domain": [9.8, 10.8], "nice": false, "zero": false}, "axis": {"orient": "top", "labels": false, "values": [9.8, 10.0, 10.2, 10.4, 10.6, 10.8]}},
                    "y": {"field": "v", "type": "quantitative", "title": null, "scale": {"domain": [-2200, 9600], "nice": false}, "axis": {"orient": "right", "labels": false, "values": [-1500, 0, 1500, 3000, 4500, 6000, 7500, 9000]}}}}
     ]},
    {"width": 148, "height": 74,
     "resolve": {"axis": {"x": "independent", "y": "independent"}},
     "layer": [
      {"data": {"name": "tc"}, "mark": {"type": "line", "strokeWidth": 1},
       "encoding": {"x": {"field": "t", "type": "quantitative", "title": null, "scale": {"domain": [9.8, 10.8], "nice": false, "zero": false}, "axis": {"values": [9.8, 10.0, 10.2, 10.4, 10.6, 10.8], "labels": false}},
                    "y": {"field": "v", "type": "quantitative", "title": "Torque (Nm)", "scale": {"domain": [-2200, 9600], "nice": false}, "axis": {"values": [-1500, 0, 1500, 3000, 4500, 6000, 7500, 9000]}},
                    "color": {"datum": "Tel(C)", "scale": {"range": ["#0000ff"]}, "legend": {"title": null}}}},
      {"data": {"name": "tc"}, "mark": {"type": "line", "opacity": 0},
       "encoding": {"x": {"field": "t", "type": "quantitative", "title": null, "scale": {"domain": [9.8, 10.8], "nice": false, "zero": false}, "axis": {"orient": "top", "labels": false, "values": [9.8, 10.0, 10.2, 10.4, 10.6, 10.8]}},
                    "y": {"field": "v", "type": "quantitative", "title": null, "scale": {"domain": [-2200, 9600], "nice": false}, "axis": {"orient": "right", "labels": false, "values": [-1500, 0, 1500, 3000, 4500, 6000, 7500, 9000]}}}}
     ]},
    {"width": 148, "height": 74,
     "resolve": {"axis": {"x": "independent", "y": "independent"}},
     "layer": [
      {"data": {"name": "trq"}, "mark": {"type": "line", "interpolate": "monotone", "strokeWidth": 1.2},
       "encoding": {"x": {"field": "t", "type": "quantitative", "title": "Time (S)", "scale": {"domain": [9.8, 10.8], "nice": false, "zero": false}, "axis": {"values": [9.8, 10.0, 10.2, 10.4, 10.6, 10.8], "format": ".1f"}},
                    "y": {"field": "v", "type": "quantitative", "title": "Torque (Nm)", "scale": {"domain": [-2200, 9600], "nice": false}, "axis": {"values": [-1500, 0, 1500, 3000, 4500, 6000, 7500, 9000]}},
                    "color": {"datum": "Tel(P)", "scale": {"range": ["#00ff00"]}, "legend": {"title": null}}}},
      {"data": {"name": "trq"}, "mark": {"type": "line", "opacity": 0},
       "encoding": {"x": {"field": "t", "type": "quantitative", "title": null, "scale": {"domain": [9.8, 10.8], "nice": false, "zero": false}, "axis": {"orient": "top", "labels": false, "values": [9.8, 10.0, 10.2, 10.4, 10.6, 10.8]}},
                    "y": {"field": "v", "type": "quantitative", "title": null, "scale": {"domain": [-2200, 9600], "nice": false}, "axis": {"orient": "right", "labels": false, "values": [-1500, 0, 1500, 3000, 4500, 6000, 7500, 9000]}}}}
     ]}
   ]}
 ], "spacing": 25, "resolve": {"scale": {"color": "independent"}, "legend": {"color": "independent"}}}
]
}
